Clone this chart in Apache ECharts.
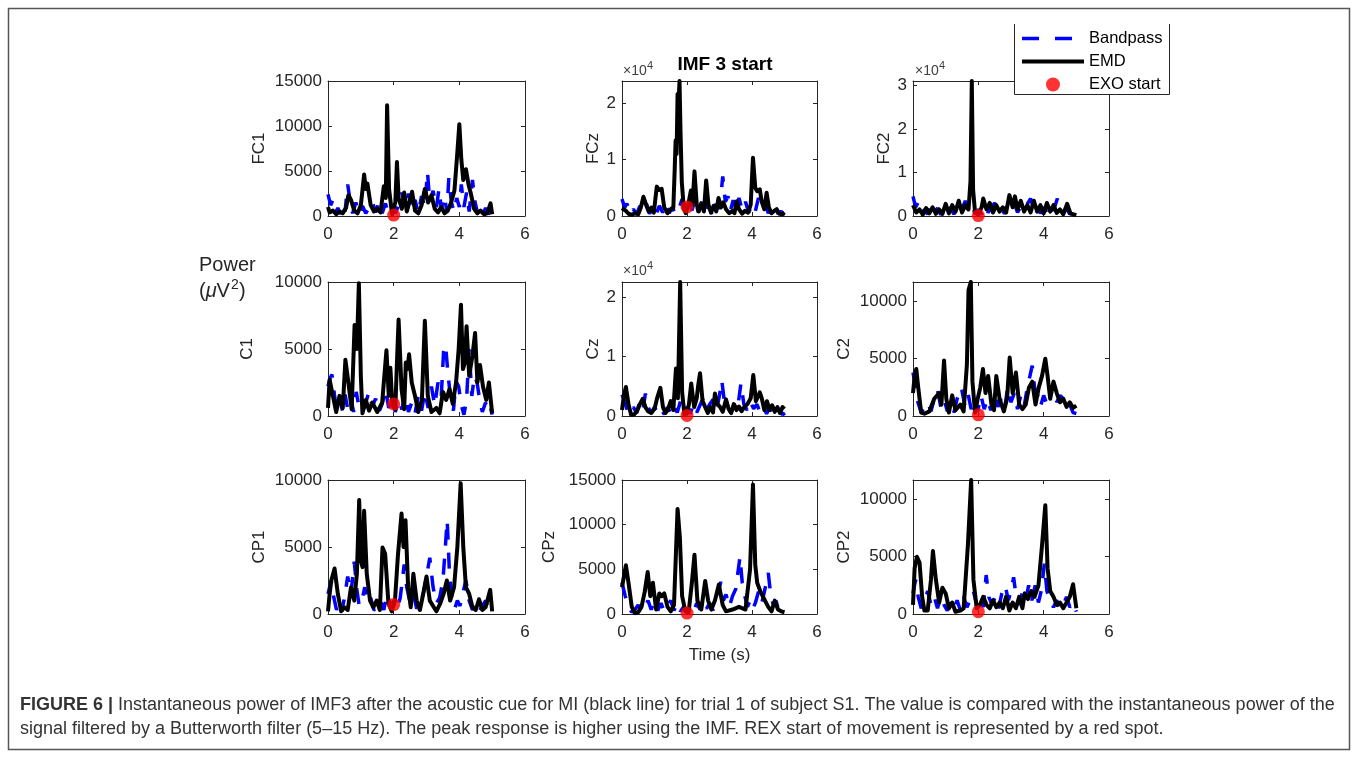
<!DOCTYPE html>
<html>
<head>
<meta charset="UTF-8" />
<title>IMF 3 start</title>
<script src="https://cdn.jsdelivr.net/npm/echarts@6.0.0/dist/echarts.min.js"></script>
</head>
<body style="margin:0;padding:0;background:#fff;">
<div id="chart" style="width:1358px;height:760px;"></div>
<script>
// channel names, one per subplot (row by row)
const channels = ['FC1', 'FCz', 'FC2', 'C1', 'Cz', 'C2', 'CP1', 'CPz', 'CP2'];

// y axis upper limits and tick values
const yMax = [15000, 23900, 31000, 10000, 22600, 11700, 10000, 15000, 11700];
const yTicks = [
	[0, 5000, 10000, 15000], [0, 10000, 20000], [0, 10000, 20000, 30000],
	[0, 5000, 10000], [0, 10000, 20000], [0, 5000, 10000],
	[0, 5000, 10000], [0, 5000, 10000, 15000], [0, 5000, 10000]
];
// 1 = plain labels, 10000 = labels shown as x10^4
const yScale = [1, 10000, 10000, 1, 10000, 1, 1, 1, 1];

// EXO start (red spot) at t = 2 s
const exoStart = [[2, 100], [2, 1600], [2, 100], [2, 900], [2, 100], [2, 100], [2, 700], [2, 100], [2, 200]];

// [time (s), power (uV^2)]
const fc1Emd = [[0,1000],[0.05,400],[0.15,600],[0.25,200],[0.35,500],[0.45,300],[0.55,900],[0.62,2300],[0.7,1800],[0.8,600],[0.9,300],[1.0,1200],[1.1,4600],[1.15,3000],[1.2,3600],[1.3,1200],[1.4,500],[1.5,800],[1.6,400],[1.7,3300],[1.76,2000],[1.8,12300],[1.86,3000],[1.95,200],[2.05,1500],[2.1,6000],[2.15,2000],[2.25,800],[2.32,2600],[2.4,500],[2.5,1800],[2.56,2700],[2.65,600],[2.75,300],[2.85,1200],[2.95,3000],[3.05,1500],[3.15,2300],[3.25,800],[3.35,400],[3.45,1000],[3.55,300],[3.65,600],[3.75,1500],[3.85,2800],[3.93,6600],[4.0,10200],[4.06,6300],[4.12,4000],[4.2,5200],[4.28,3500],[4.35,2500],[4.45,800],[4.55,300],[4.65,600],[4.75,200],[4.85,300],[4.95,1400],[5.0,200]];
const fc1Bp = [[0,2400],[0.08,1200],[0.15,1800],[0.22,300],[0.3,900],[0.38,200],[0.45,1300],[0.52,500],[0.6,3500],[0.68,1500],[0.75,300],[0.85,1500],[0.95,200],[1.05,1100],[1.15,300],[1.25,900],[1.35,1600],[1.45,400],[1.55,1500],[1.65,300],[1.75,1400],[1.85,200],[1.95,1000],[2.05,300],[2.15,1200],[2.25,2600],[2.35,800],[2.45,2500],[2.55,500],[2.65,1800],[2.75,300],[2.85,2200],[2.95,1000],[3.03,4900],[3.1,1500],[3.2,2800],[3.3,900],[3.38,3000],[3.45,800],[3.55,2200],[3.62,400],[3.68,4200],[3.76,1500],[3.84,500],[3.92,2000],[4.0,1000],[4.06,3500],[4.14,1000],[4.22,2600],[4.3,500],[4.4,4000],[4.48,1500],[4.56,300],[4.64,1100],[4.72,200],[4.8,900],[4.88,200],[4.95,500],[5.0,100]];

const fczEmd = [[0,1400],[0.05,1100],[0.12,900],[0.2,400],[0.3,200],[0.4,500],[0.5,300],[0.58,1500],[0.66,3400],[0.74,2000],[0.82,800],[0.9,1500],[0.98,600],[1.07,5200],[1.14,4600],[1.22,4800],[1.3,1500],[1.4,500],[1.5,1200],[1.58,1500],[1.62,8000],[1.65,13400],[1.68,11000],[1.71,21600],[1.74,20000],[1.77,23900],[1.8,15000],[1.84,6000],[1.9,1500],[1.96,500],[2.02,1500],[2.07,3000],[2.12,4500],[2.17,2000],[2.23,7900],[2.3,2000],[2.36,800],[2.44,2200],[2.52,800],[2.59,6300],[2.66,2000],[2.74,600],[2.82,1800],[2.9,800],[2.97,3200],[3.04,1500],[3.12,2400],[3.2,1200],[3.3,500],[3.4,900],[3.46,500],[3.53,2600],[3.6,1200],[3.7,400],[3.78,900],[3.88,600],[3.96,2000],[4.03,10300],[4.1,5000],[4.16,4400],[4.24,4700],[4.3,2500],[4.38,1200],[4.45,4100],[4.52,1500],[4.6,500],[4.68,900],[4.76,1200],[4.84,400],[4.92,300],[5.0,500]];
const fczBp = [[0,3000],[0.08,1500],[0.15,2200],[0.25,400],[0.35,1200],[0.45,300],[0.55,1800],[0.65,800],[0.75,2200],[0.85,400],[0.95,1500],[1.05,300],[1.15,1800],[1.25,600],[1.35,2200],[1.45,500],[1.55,1500],[1.65,300],[1.75,1200],[1.85,3000],[1.95,1500],[2.05,3200],[2.15,1000],[2.25,2800],[2.35,600],[2.45,2500],[2.55,800],[2.65,2000],[2.75,400],[2.85,2600],[2.95,1200],[3.05,4000],[3.1,7000],[3.18,2500],[3.26,3500],[3.34,1000],[3.42,2800],[3.5,600],[3.6,3200],[3.7,1000],[3.8,2500],[3.9,600],[4.0,2000],[4.1,800],[4.2,3200],[4.3,1000],[4.4,2200],[4.5,500],[4.6,1500],[4.7,1800],[4.8,400],[4.9,800],[5.0,200]];

const fc2Emd = [[0,2500],[0.1,800],[0.2,1500],[0.3,300],[0.4,1800],[0.5,600],[0.6,2000],[0.7,500],[0.8,1500],[0.9,500],[1.0,2800],[1.1,600],[1.2,2500],[1.3,1000],[1.4,3500],[1.5,800],[1.6,2500],[1.7,1500],[1.76,8000],[1.8,31000],[1.84,6000],[1.9,800],[2.0,300],[2.1,2000],[2.15,4000],[2.25,1500],[2.35,3000],[2.45,800],[2.55,2500],[2.65,1000],[2.75,2000],[2.85,800],[2.95,4800],[3.05,2000],[3.12,4500],[3.2,1500],[3.3,3500],[3.4,1000],[3.5,2500],[3.6,800],[3.7,3500],[3.8,1000],[3.9,2500],[4.0,600],[4.1,3000],[4.2,1000],[4.3,2500],[4.4,700],[4.5,1500],[4.6,400],[4.72,2800],[4.82,600],[4.9,400],[5.0,200]];
const fc2Bp = [[0,4500],[0.08,2000],[0.15,3000],[0.25,500],[0.35,1500],[0.45,400],[0.55,2500],[0.65,800],[0.75,1800],[0.85,300],[0.95,1500],[1.05,500],[1.15,2000],[1.25,400],[1.35,1800],[1.45,600],[1.6,3500],[1.7,1200],[1.8,2500],[1.9,500],[2.0,1500],[2.1,400],[2.2,2200],[2.3,800],[2.4,2000],[2.5,3000],[2.6,1000],[2.7,2000],[2.8,500],[2.9,2500],[3.0,1200],[3.1,3000],[3.2,800],[3.3,2200],[3.4,1500],[3.5,2800],[3.6,4000],[3.7,1500],[3.8,2500],[3.9,600],[4.0,2000],[4.1,800],[4.2,2500],[4.3,1200],[4.42,4000],[4.5,1500],[4.6,600],[4.7,1800],[4.8,400],[4.9,1000],[5.0,200]];

const c1Emd = [[0,600],[0.05,2700],[0.15,1500],[0.25,300],[0.35,1500],[0.45,600],[0.53,4200],[0.62,2500],[0.72,500],[0.81,6800],[0.88,5000],[0.94,9900],[1.0,3000],[1.05,200],[1.15,1200],[1.25,400],[1.35,1000],[1.5,300],[1.65,1000],[1.78,4900],[1.85,1500],[1.9,3600],[1.96,800],[2.05,500],[2.1,4000],[2.15,7200],[2.24,2000],[2.32,500],[2.37,4000],[2.42,3500],[2.47,4600],[2.55,2500],[2.65,1500],[2.75,300],[2.86,1200],[2.95,7100],[3.04,1500],[3.15,300],[3.3,600],[3.4,200],[3.5,1800],[3.6,1200],[3.7,2000],[3.8,900],[3.9,2500],[3.98,5000],[4.05,8300],[4.11,3500],[4.17,4000],[4.22,6700],[4.3,3000],[4.4,4500],[4.48,6200],[4.55,2500],[4.63,3800],[4.72,2200],[4.82,1200],[4.9,2500],[5.0,200]];
const c1Bp = [[0,2200],[0.06,2800],[0.12,3100],[0.2,1500],[0.28,300],[0.36,1200],[0.44,400],[0.52,1600],[0.6,500],[0.7,1300],[0.78,300],[0.86,1800],[0.95,600],[1.05,300],[1.15,1000],[1.25,1800],[1.35,700],[1.45,1300],[1.55,300],[1.65,900],[1.75,2000],[1.85,600],[1.95,1400],[2.05,300],[2.15,1200],[2.25,500],[2.35,1600],[2.45,300],[2.55,1000],[2.65,200],[2.75,1500],[2.85,400],[2.95,1800],[3.05,600],[3.15,2200],[3.25,800],[3.35,2500],[3.45,1500],[3.52,4800],[3.58,5300],[3.66,3000],[3.74,1200],[3.82,400],[3.9,2600],[3.98,2200],[4.06,800],[4.14,100],[4.22,1200],[4.3,5000],[4.38,1500],[4.46,3000],[4.54,2500],[4.62,1200],[4.7,300],[4.8,1000],[4.88,300],[4.95,600],[5.0,100]];

const czEmd = [[0,1000],[0.06,3500],[0.12,4900],[0.2,2000],[0.28,200],[0.38,300],[0.46,800],[0.55,2000],[0.64,2900],[0.72,1500],[0.8,800],[0.9,500],[1.0,1200],[1.08,3000],[1.18,4750],[1.26,1500],[1.34,500],[1.42,1200],[1.5,2500],[1.58,1000],[1.66,8000],[1.72,3000],[1.79,22600],[1.85,4000],[1.92,300],[2.0,500],[2.06,2000],[2.13,5500],[2.22,1500],[2.3,3000],[2.34,5000],[2.4,7200],[2.48,2500],[2.56,1500],[2.64,500],[2.72,1500],[2.8,600],[2.86,3800],[2.94,2000],[3.02,1500],[3.1,700],[3.2,2800],[3.28,1200],[3.36,500],[3.44,2000],[3.52,1000],[3.6,1600],[3.68,800],[3.76,1500],[3.86,2000],[3.96,3000],[4.04,6900],[4.12,2500],[4.2,3500],[4.24,4000],[4.3,3000],[4.38,1000],[4.46,2500],[4.54,1000],[4.62,1800],[4.7,700],[4.78,1500],[4.86,500],[4.94,1500],[5.0,1200]];
const czBp = [[0,3600],[0.08,2500],[0.16,1000],[0.25,300],[0.35,1500],[0.45,500],[0.55,2500],[0.65,1200],[0.72,3800],[0.8,1500],[0.9,500],[1.0,1500],[1.1,400],[1.2,1200],[1.3,300],[1.4,1500],[1.5,500],[1.6,1800],[1.7,600],[1.8,2500],[1.9,800],[2.0,1500],[2.1,400],[2.2,2000],[2.3,600],[2.4,1800],[2.5,3000],[2.6,1000],[2.7,2000],[2.8,2800],[2.9,800],[3.0,3500],[3.07,6000],[3.15,2500],[3.25,1500],[3.35,500],[3.45,2000],[3.55,1000],[3.66,5500],[3.75,2000],[3.85,1000],[3.95,2500],[4.05,1200],[4.15,2000],[4.25,600],[4.35,1500],[4.45,400],[4.55,1500],[4.65,300],[4.75,800],[4.85,200],[4.95,500],[5.0,100]];

const c2Emd = [[0,2000],[0.05,3500],[0.1,4100],[0.16,2500],[0.25,300],[0.35,200],[0.5,400],[0.65,1500],[0.8,2000],[0.87,1000],[0.95,4850],[1.02,1500],[1.1,300],[1.2,1800],[1.3,500],[1.45,1000],[1.55,400],[1.65,4500],[1.7,11000],[1.77,11700],[1.82,3000],[1.9,300],[1.98,1500],[2.06,2500],[2.14,4100],[2.22,2000],[2.3,3500],[2.4,1000],[2.48,500],[2.55,3500],[2.65,1500],[2.78,400],[2.88,1500],[2.96,5100],[3.05,2000],[3.15,3800],[3.25,1000],[3.35,600],[3.45,1000],[3.55,2500],[3.65,3000],[3.75,1000],[3.85,2500],[3.95,3500],[4.05,5000],[4.12,3500],[4.2,1500],[4.3,3000],[4.4,2000],[4.5,1200],[4.6,1500],[4.7,800],[4.8,1200],[4.9,700],[5.0,900]];
const c2Bp = [[0,3800],[0.08,2500],[0.15,1200],[0.25,300],[0.35,800],[0.45,1200],[0.55,400],[0.65,1500],[0.75,2300],[0.85,800],[0.95,1500],[1.05,400],[1.15,1200],[1.25,300],[1.35,1500],[1.48,2500],[1.58,1000],[1.68,2000],[1.78,600],[1.88,1500],[1.98,400],[2.08,1800],[2.18,600],[2.28,1500],[2.38,500],[2.5,2000],[2.6,800],[2.7,1500],[2.8,600],[2.9,2500],[3.0,1200],[3.1,2000],[3.2,600],[3.3,1800],[3.4,800],[3.5,2500],[3.58,3500],[3.65,4400],[3.72,2500],[3.8,2000],[3.9,800],[4.0,1800],[4.1,1000],[4.2,2000],[4.3,2800],[4.4,1200],[4.5,1800],[4.6,1500],[4.7,600],[4.8,1000],[4.9,300],[5.0,200]];

const cp1Emd = [[0,200],[0.05,1500],[0.1,2500],[0.2,3400],[0.3,1500],[0.4,200],[0.5,500],[0.6,300],[0.7,2000],[0.8,1000],[0.88,3000],[0.95,8500],[1.0,4000],[1.05,3500],[1.1,7700],[1.18,3000],[1.28,1000],[1.38,500],[1.48,1000],[1.58,300],[1.66,4960],[1.74,4500],[1.84,800],[1.94,200],[2.04,1000],[2.13,4400],[2.24,7500],[2.3,5000],[2.36,7000],[2.44,2000],[2.52,500],[2.6,3000],[2.7,1000],[2.8,300],[2.9,1500],[3.0,2800],[3.1,1000],[3.2,600],[3.3,200],[3.42,800],[3.52,1500],[3.62,2500],[3.72,1000],[3.84,2000],[3.94,5000],[4.04,9750],[4.12,5000],[4.2,2000],[4.3,1500],[4.4,500],[4.5,300],[4.6,1100],[4.7,300],[4.8,500],[4.94,1800],[5.0,200]];
const cp1Bp = [[0,1500],[0.1,2500],[0.18,1200],[0.26,300],[0.34,900],[0.42,200],[0.5,1200],[0.6,2800],[0.7,1500],[0.8,3900],[0.88,1800],[0.95,600],[1.05,1200],[1.12,2000],[1.2,800],[1.3,1200],[1.4,300],[1.5,400],[1.6,1000],[1.7,300],[1.8,1500],[1.9,600],[2.0,1000],[2.1,400],[2.2,1200],[2.32,3700],[2.4,2000],[2.5,800],[2.6,1500],[2.7,400],[2.8,800],[2.9,1500],[3.0,2800],[3.1,4200],[3.2,2000],[3.3,800],[3.4,1200],[3.5,2500],[3.56,4500],[3.63,7000],[3.7,3000],[3.78,1000],[3.86,400],[3.94,1000],[4.02,600],[4.1,1500],[4.2,2500],[4.3,1000],[4.4,300],[4.5,800],[4.6,200],[4.7,600],[4.8,1000],[4.9,300],[5.0,100]];

const cpzEmd = [[0,3000],[0.06,4200],[0.12,5450],[0.2,3500],[0.3,800],[0.4,100],[0.5,200],[0.6,800],[0.7,2500],[0.79,4700],[0.87,2000],[0.95,3500],[1.05,500],[1.15,2300],[1.22,2000],[1.3,2300],[1.4,800],[1.5,300],[1.6,1000],[1.71,11760],[1.78,8600],[1.85,2000],[1.95,300],[2.05,200],[2.15,3500],[2.23,6640],[2.32,1500],[2.44,500],[2.56,3700],[2.65,1500],[2.75,500],[2.86,1500],[2.98,3300],[3.1,1000],[3.2,300],[3.4,500],[3.6,800],[3.8,500],[3.94,5000],[4.03,14500],[4.1,5500],[4.16,3500],[4.26,2500],[4.4,1500],[4.5,800],[4.6,300],[4.7,1500],[4.8,500],[4.9,300],[5.0,200]];
const cpzBp = [[0,3500],[0.1,2000],[0.2,800],[0.3,200],[0.4,500],[0.5,1000],[0.6,300],[0.7,800],[0.8,1500],[0.9,500],[1.0,1500],[1.1,400],[1.2,1200],[1.3,300],[1.4,1000],[1.5,1500],[1.6,400],[1.7,1200],[1.8,300],[1.9,800],[2.0,200],[2.1,800],[2.2,300],[2.3,1200],[2.4,500],[2.5,1500],[2.6,600],[2.7,1200],[2.8,400],[2.9,2000],[3.0,3000],[3.04,3600],[3.12,1500],[3.2,2200],[3.3,800],[3.4,2000],[3.5,2800],[3.58,5000],[3.63,6400],[3.7,3500],[3.78,2000],[3.86,800],[3.94,1500],[4.02,600],[4.1,1200],[4.2,2500],[4.3,1200],[4.4,2800],[4.5,4600],[4.58,2000],[4.66,1000],[4.74,1500],[4.82,400],[4.9,200],[5.0,100]];

const cp2Emd = [[0,800],[0.05,4000],[0.12,5000],[0.2,4500],[0.28,1500],[0.35,300],[0.45,300],[0.55,3000],[0.61,5500],[0.7,3000],[0.8,1000],[0.9,2300],[1.0,1800],[1.1,500],[1.2,1000],[1.3,200],[1.45,300],[1.55,500],[1.68,6000],[1.78,11700],[1.85,3000],[1.95,500],[2.05,800],[2.15,1500],[2.25,800],[2.35,500],[2.45,1200],[2.55,600],[2.65,1000],[2.75,500],[2.85,1500],[2.95,300],[3.05,1000],[3.15,500],[3.25,1500],[3.35,500],[3.42,1800],[3.52,1300],[3.62,2000],[3.72,1500],[3.84,2500],[3.95,6000],[4.05,9500],[4.12,4000],[4.2,2000],[4.3,1500],[4.4,800],[4.5,1000],[4.6,500],[4.7,1000],[4.8,1500],[4.9,2600],[5.0,500]];
const cp2Bp = [[0,1800],[0.08,3000],[0.16,1500],[0.25,500],[0.35,1200],[0.45,2000],[0.55,800],[0.65,1500],[0.75,500],[0.85,1500],[0.95,800],[1.05,300],[1.15,1000],[1.25,400],[1.35,1200],[1.45,300],[1.55,1500],[1.65,600],[1.75,1200],[1.85,2000],[1.95,800],[2.05,1500],[2.15,600],[2.24,3400],[2.32,1500],[2.42,800],[2.52,1500],[2.62,500],[2.72,1800],[2.82,2500],[2.92,1200],[3.0,2000],[3.08,3200],[3.16,1500],[3.24,800],[3.34,1800],[3.44,1000],[3.54,2500],[3.64,1200],[3.74,2500],[3.84,1000],[3.94,2200],[4.02,4400],[4.1,2000],[4.2,1200],[4.3,600],[4.4,1200],[4.5,400],[4.6,800],[4.7,1500],[4.8,600],[4.9,1000],[5.0,200]];

const emdData = [fc1Emd, fczEmd, fc2Emd, c1Emd, czEmd, c2Emd, cp1Emd, cpzEmd, cp2Emd];
const bpData = [fc1Bp, fczBp, fc2Bp, c1Bp, czBp, c2Bp, cp1Bp, cpzBp, cp2Bp];

// layout (pixels)
const colLeft = [328, 622, 913];
const colWidth = [197, 195, 196];
const rowTop = [81, 282, 480];
const rowHeight = [135, 134, 134];
const nameGaps = [60, 20, 20, 72, 20, 60, 60, 64, 60];

const font = "'Liberation Sans', Arial, Helvetica, sans-serif";
const axisColor = '#262626';
const bpStyle = {color: '#0000ff', width: 3.5, type: [16, 13]};
const emdStyle = {color: '#000', width: 4, join: 'round'};

const chart = echarts.init(document.getElementById('chart'));

const grids = [], xAxes = [], yAxes = [], series = [];
for (let i = 0; i < 9; i++) {
	const r = Math.floor(i / 3), c = i % 3;
	grids.push({left: colLeft[c], top: rowTop[r], width: colWidth[c], height: rowHeight[r]});

	const line = {onZero: false, lineStyle: {color: axisColor, width: 1}};
	const tick = {inside: true, length: 4, lineStyle: {color: axisColor}};
	// bottom axis with labels, top axis only for the box and mirrored ticks
	xAxes.push({
		gridIndex: i, type: 'value', min: 0, max: 6, interval: 2, position: 'bottom',
		axisLine: line, axisTick: tick, splitLine: {show: false},
		axisLabel: {color: axisColor, fontSize: 17, fontFamily: font, margin: 10},
		name: i === 7 ? 'Time (s)' : '', nameLocation: 'middle', nameGap: 33,
		nameTextStyle: {color: axisColor, fontSize: 17, fontFamily: font}
	});
	xAxes.push({
		gridIndex: i, type: 'value', min: 0, max: 6, interval: 2, position: 'top',
		axisLine: line, axisTick: tick, splitLine: {show: false}, axisLabel: {show: false}
	});
	const sc = yScale[i];
	yAxes.push({
		gridIndex: i, type: 'value', min: 0, max: yMax[i], position: 'left',
		axisLine: line, axisTick: Object.assign({customValues: yTicks[i]}, tick), splitLine: {show: false},
		axisLabel: {customValues: yTicks[i], color: axisColor, fontSize: 17, fontFamily: font, margin: 6,
			formatter: function(v) { return String(v / sc); }},
		name: channels[i], nameLocation: 'middle', nameGap: nameGaps[i],
		nameTextStyle: {color: axisColor, fontSize: 17, fontFamily: font}
	});
	yAxes.push({
		gridIndex: i, type: 'value', min: 0, max: yMax[i], position: 'right',
		axisLine: line, axisTick: Object.assign({customValues: yTicks[i]}, tick), splitLine: {show: false},
		axisLabel: {show: false}
	});

	series.push({
		name: 'Bandpass', type: 'line', xAxisIndex: 2 * i, yAxisIndex: 2 * i,
		data: bpData[i], symbol: 'none', z: 2,
		lineStyle: bpStyle, itemStyle: {color: '#0000ff'}
	});
	series.push({
		name: 'EMD', type: 'line', xAxisIndex: 2 * i, yAxisIndex: 2 * i,
		data: emdData[i], symbol: 'none', z: 3,
		lineStyle: emdStyle, itemStyle: {color: '#000'}
	});
	series.push({
		name: 'EXO start', type: 'scatter', xAxisIndex: 2 * i, yAxisIndex: 2 * i,
		data: [exoStart[i]], symbol: 'circle', symbolSize: 13, clip: false, z: 4,
		itemStyle: {color: '#ff0000'}
	});
}

const captionLine1 = '{b|FIGURE 6 |} Instantaneous power of IMF3 after the acoustic cue for MI (black line) for trial 1 of subject S1. The value is compared with the instantaneous power of the';
const captionLine2 = 'signal filtered by a Butterworth filter (5–15 Hz). The peak response is higher using the IMF. REX start of movement is represented by a red spot.';
const capStyle = {fontSize: 18, fontFamily: font, fill: '#333'};
const expStyle = {fontSize: 14, fontFamily: font, fill: '#404040'};
const supStyle = {fontSize: 11, fontFamily: font, fill: '#404040'};

// x10^4 multiplier labels above FCz, FC2 and Cz
const exponentAt = [[623, 64], [915, 64], [623, 264]];
const exponentGraphics = [];
exponentAt.forEach(function(p) {
	exponentGraphics.push({type: 'text', x: p[0], y: p[1], style: Object.assign({text: '×10'}, expStyle)});
	exponentGraphics.push({type: 'text', x: p[0] + 24, y: p[1] - 4, style: Object.assign({text: '4'}, supStyle)});
});

chart.setOption({
	animation: false,
	backgroundColor: '#fff',
	grid: grids,
	xAxis: xAxes,
	yAxis: yAxes,
	series: series,
	legend: {
		orient: 'vertical', left: 1015, top: 25, z: 20,
		itemWidth: 62, itemHeight: 14, itemGap: 6,
		data: [
			{name: 'Bandpass', itemStyle: {opacity: 0}, lineStyle: {color: '#0000ff', width: 3.5, type: [17, 16]}},
			{name: 'EMD', itemStyle: {opacity: 0}, lineStyle: {color: '#000', width: 4}},
			{name: 'EXO start', icon: 'circle'}
		],
		textStyle: {color: '#000', fontSize: 16.5, fontFamily: font}
	},
	graphic: [
		{type: 'rect', z: 100, shape: {x: 8.5, y: 8.5, width: 1341, height: 741},
			style: {fill: null, stroke: '#555', lineWidth: 1.5}},
		// legend box, its top edge is outside the figure
		{type: 'rect', z: 10, shape: {x: 1014, y: 24, width: 155, height: 70}, style: {fill: '#fff'}},
		{type: 'polyline', z: 11, shape: {points: [[1014.5, 24], [1014.5, 94.5], [1169.5, 94.5], [1169.5, 24]]},
			style: {fill: null, stroke: '#262626', lineWidth: 1}},
		{type: 'text', x: 725, y: 55, style: {text: 'IMF 3 start', fontSize: 19, fontWeight: 'bold', fontFamily: font, fill: '#000', textAlign: 'center', align: 'center'}},
		{type: 'text', x: 199, y: 255, style: {text: 'Power', fontSize: 20, fontFamily: font, fill: axisColor}},
		{type: 'text', x: 199, y: 281, style: {text: '({i|μ}V', fontSize: 20, fontFamily: font, fill: axisColor,
			rich: {i: {fontStyle: 'italic', fontSize: 20, fontFamily: font, fill: axisColor}}}},
		{type: 'text', x: 231, y: 278, style: {text: '2', fontSize: 14, fontFamily: font, fill: axisColor}},
		{type: 'text', x: 239, y: 281, style: {text: ')', fontSize: 20, fontFamily: font, fill: axisColor}},
		{type: 'text', x: 20, y: 696, style: Object.assign({text: captionLine1, rich: {b: {fontWeight: 'bold', fontSize: 18, fontFamily: font, fill: '#333'}}}, capStyle)},
		{type: 'text', x: 20, y: 720, style: Object.assign({text: captionLine2}, capStyle)}
	].concat(exponentGraphics)
});
</script>
</body>
</html>
